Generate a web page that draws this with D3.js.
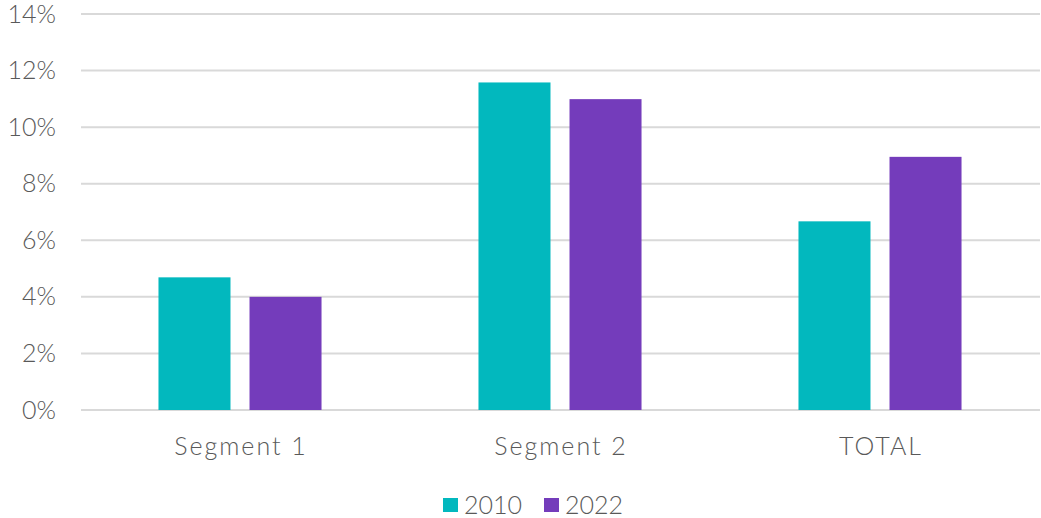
<!DOCTYPE html>
<html>
<head>
<meta charset="utf-8">
<script src="https://cdn.jsdelivr.net/npm/d3@7"></script>
<style>
  body { margin: 0; background: #fff; }
  text { font-family: "Century Gothic", "Lato", "DejaVu Sans", sans-serif; font-weight: 300; fill: #595959; }
</style>
</head>
<body>
<script>
const categories = ["Segment 1", "Segment 2", "TOTAL"];
const seriesNames = ["2010", "2022"];
const values2010 = [0.0469, 0.1158, 0.0667];
const values2022 = [0.0400, 0.1099, 0.0895];
const yTicks = [0, 0.02, 0.04, 0.06, 0.08, 0.10, 0.12, 0.14];
const colors = { "2010": "#02B8BE", "2022": "#743CBB" };

function drawChart() {
    const width = 1041, height = 518;
    const left = 80, right = 1040, top = 14, bottom = 410;

    const svg = d3.select("body")
        .append("svg")
        .attr("width", width)
        .attr("height", height);

    const y = d3.scaleLinear().domain([0, 0.14]).range([bottom, top]);
    const x0 = d3.scaleBand().domain(categories).range([left, right]).padding(0);
    const x1 = d3.scaleBand().domain(seriesNames)
        .range([0, x0.bandwidth()])
        .paddingInner(0.209)
        .paddingOuter(0.862);

    // gridlines
    svg.append("g")
        .selectAll("line")
        .data(yTicks)
        .join("line")
        .attr("x1", left + 1)
        .attr("x2", right)
        .attr("y1", d => y(d))
        .attr("y2", d => y(d))
        .style("stroke", "#D9D9D9")
        .style("stroke-width", 2);

    // y axis labels
    const yAxis = d3.axisLeft(y)
        .tickValues(yTicks)
        .tickFormat(d3.format(".0%"))
        .tickSize(0)
        .tickPadding(0);
    const gy = svg.append("g")
        .attr("transform", "translate(56,0)")
        .call(yAxis);
    gy.select(".domain").remove();
    gy.selectAll("text")
        .style("font-size", "25px")
        .attr("fill", "#595959");

    // bars
    const rows = categories.map((c, i) => ({
        category: c,
        points: [
            { series: "2010", value: values2010[i] },
            { series: "2022", value: values2022[i] }
        ]
    }));

    svg.append("g")
        .selectAll("g")
        .data(rows)
        .join("g")
        .attr("transform", d => "translate(" + x0(d.category) + ",0)")
        .selectAll("rect")
        .data(d => d.points)
        .join("rect")
        .attr("x", d => x1(d.series))
        .attr("width", x1.bandwidth())
        .attr("y", d => y(d.value))
        .attr("height", d => y(0) - y(d.value))
        .style("fill", d => colors[d.series]);

    // x axis labels
    const xAxis = d3.axisBottom(x0).tickSize(0).tickPadding(0);
    const gx = svg.append("g")
        .attr("transform", "translate(1,437)")
        .call(xAxis);
    gx.select(".domain").remove();
    gx.selectAll("text")
        .style("font-size", "25px")
        .style("letter-spacing", "2px")
        .attr("fill", "#595959");

    // legend
    const legendX = [443, 544];
    const legend = svg.append("g")
        .selectAll("g")
        .data(seriesNames)
        .join("g")
        .attr("transform", (d, i) => "translate(" + legendX[i] + ",498)");
    legend.append("rect")
        .attr("width", 15)
        .attr("height", 14)
        .style("fill", d => colors[d]);
    legend.append("text")
        .attr("x", 21)
        .attr("y", 16)
        .style("font-size", "25px")
        .text(d => d);
}

drawChart();
</script>
</body>
</html>
